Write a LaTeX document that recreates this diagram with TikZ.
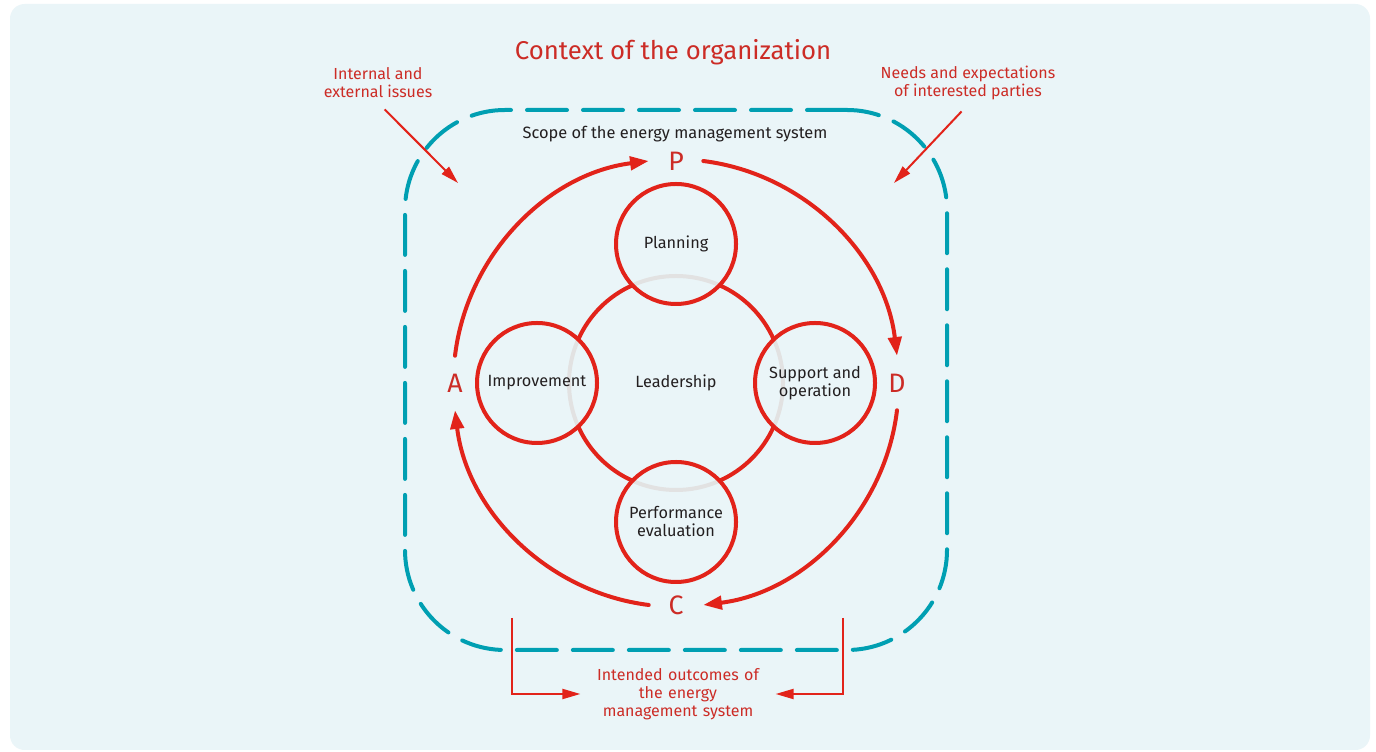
\documentclass[tikz,border=0pt]{standalone}
\usepackage{fontspec}
\setmainfont{Fira Sans}
\usetikzlibrary{arrows.meta}
\definecolor{panel}{RGB}{234,245,248}
\definecolor{scopeteal}{RGB}{0,159,178}
\definecolor{pdcared}{RGB}{226,35,26}
\definecolor{textred}{RGB}{204,44,38}
\definecolor{ringgrey}{RGB}{226,226,226}
\definecolor{textdark}{RGB}{35,31,32}
\begin{document}
\begin{tikzpicture}[x=0.75pt, y=0.75pt,
  stage/.style={draw=pdcared, line width=3pt, circle, minimum size=90pt, inner sep=0pt, outer sep=0pt, align=center, text=textdark, font=\fontsize{12.2}{13.5}\selectfont},
  letter/.style={circle, minimum size=40.5pt, inner sep=0pt, text=textred, font=\fontsize{20}{21}\selectfont},
  cycle/.style={draw=pdcared, line width=3pt, line cap=round, bend left=38, looseness=0.95, -{Triangle[length=14pt,width=10pt]}},
  note/.style={text=textred, align=center, font=\fontsize{12}{13.5}\selectfont},
  pointer/.style={draw=pdcared, line width=1.5pt, -{Triangle[length=13.5pt,width=7.5pt]}}]

\useasboundingbox (0,0) rectangle (1376,752);
\fill[white] (0,0) rectangle (1376,752);
\fill[panel, rounded corners=11pt] (10,2) rectangle (1370,748);

\node[text=textred, font=\fontsize{19.3}{22}\selectfont] (title) at (673,700) {Context of the organization};

\node[draw=scopeteal, line width=3pt, line cap=round, dash pattern=on 30pt off 12pt, rounded corners=75pt, minimum width=406.5pt, minimum height=405pt] (scopebox) at (676,372) {};
\node[text=textdark, font=\fontsize{12.3}{13.5}\selectfont] (scopetext) at (675,618) {Scope of the energy management system};

\node[note] (issues) at (378,669) {Internal and\\external issues};
\node[note] (needs) at (968,669) {Needs and expectations\\of interested parties};
\coordinate (issuestip) at (458,569);
\coordinate (needstip) at (894,569);
\draw[pointer, shorten <=7pt] (issues.south) -- (issuestip);
\draw[pointer, shorten <=7pt] (needs.south) -- (needstip);

% leadership ring, grey inside the stages
\node[circle, draw=ringgrey, line width=3pt, minimum size=160.5pt, inner sep=0pt, outer sep=0pt, text=textdark, font=\fontsize{12.2}{13.5}\selectfont] (lead) at (676,369) {Leadership};
\foreach \a in {24,114,204,294}
  \draw[draw=pdcared, line width=3pt] (lead.\a) arc[start angle=\a, end angle=\a+42, radius=107];

\node[stage] (plan) at (676,508) {Planning};
\node[stage] (improve) at (537,369) {Improvement};
\node[stage] (support) at (815,369) {Support and\\operation};
\node[stage] (perf) at (676,230) {Performance\\evaluation};

\node[letter] (P) at (676,591) {P};
\node[letter] (D) at (897,369) {D};
\node[letter] (C) at (676,147) {C};
\node[letter] (A) at (455,369) {A};

\draw[cycle] (A.north) to (P.west);
\draw[cycle] (P.east) to (D.north);
\draw[cycle] (D.south) to (C.east);
\draw[cycle] (C.west) to (A.south);

\node[note, text width=122pt, inner xsep=12pt] (outcomes) at (678,58) {Intended outcomes of\\the energy\\management system};
\coordinate (outl) at (512,134);
\coordinate (outr) at (843,134);
\draw[pointer] (outl) |- (outcomes.west);
\draw[pointer] (outr) |- (outcomes.east);

\end{tikzpicture}
\end{document}
